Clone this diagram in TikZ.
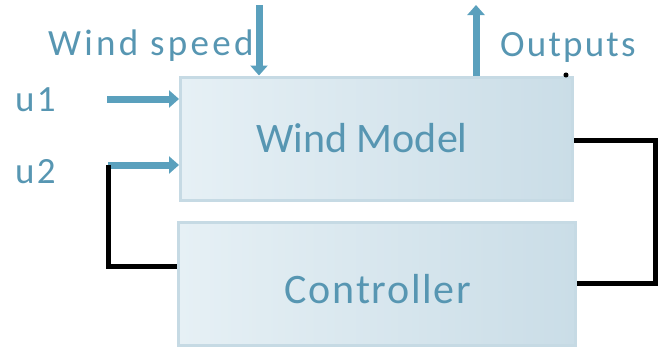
\documentclass[tikz,border=0pt]{standalone}
\usepackage{fontspec}
\setmainfont{Carlito}
\usetikzlibrary{arrows.meta}
\definecolor{labelblue}{HTML}{5796B2}
\definecolor{arrowblue}{HTML}{5AA0BD}
\definecolor{boxleft}{HTML}{E6F0F5}
\definecolor{boxright}{HTML}{CADDE7}
\definecolor{boxedge}{HTML}{C6DAE4}

\begin{document}
\begin{tikzpicture}[x=1pt,y=-1pt,
  block/.style={rectangle, draw=boxedge, line width=3pt, left color=boxleft, right color=boxright, inner sep=0pt},
  lbl/.style={text=labelblue, inner sep=0pt, anchor=base west, font=\fontsize{37}{44}\selectfont\addfontfeatures{LetterSpace=6}},
  blocktext/.style={text=labelblue, inner sep=0pt, anchor=base, font=\fontsize{42}{50}\selectfont},
  signal/.style={arrowblue, line width=7pt, -{Triangle[width=17pt,length=10pt]}},
  wire/.style={black, line width=5pt}]
\useasboundingbox (0,0) rectangle (664,351);
% blocks
\node[block, minimum width=392pt, minimum height=123pt] (wm) at (376.5,138.5) {};
\node[block, minimum width=397pt, minimum height=123pt] (ctrl) at (376.5,283.5) {};
\node[blocktext] (wmtext) at (362,152) {Wind Model};
\node[blocktext, font=\fontsize{42}{50}\selectfont\addfontfeatures{LetterSpace=4}] (ctrltext) at (378,303) {Controller};
% labels
\node[lbl, font=\fontsize{37}{44}\selectfont\addfontfeatures{LetterSpace=9}] (speed) at (48,55) {Wind speed};
\node[lbl] (outputs) at (500,56) {Outputs};
\node[lbl] (uone) at (15,111) {u1};
\node[lbl] (utwo) at (15,183) {u2};
% signals
\coordinate (speedtop) at (259,5);
\coordinate (outtop) at (476,5);
\coordinate (uonestart) at (107,99);
\coordinate (utwostart) at (108,165);
\draw[signal] (speedtop) -- (speedtop |- wm.north);
\draw[signal] (outtop |- wm.north) -- (outtop);
\draw[signal] (uonestart) -- (uonestart -| wm.west);
\draw[signal] (utwostart) -- (utwostart -| wm.west);
% feedback loop
\coordinate (ctrlin) at (ctrl.west |- 0,266);
\coordinate (wmout) at (wm.east |- 0,140);
\coordinate (loopright) at (655,140);
\coordinate (ctrlout) at (ctrl.east |- 0,283);
\draw[wire] (utwostart) |- (ctrlin);
\draw[wire] (wmout) -- (loopright) |- (ctrlout);
\node[circle, fill=black, inner sep=1.8pt] (dot) at (566,75) {};
\end{tikzpicture}
\end{document}
